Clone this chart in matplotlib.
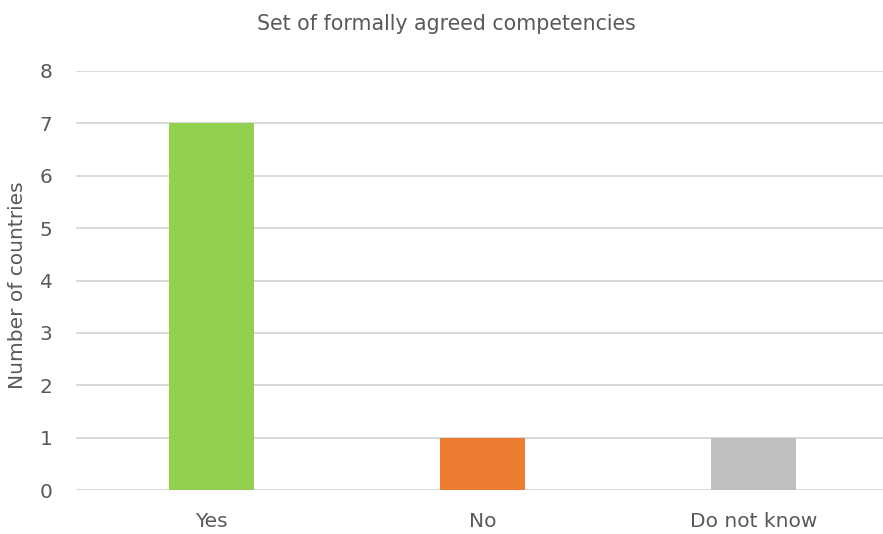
import matplotlib
matplotlib.use("Agg")
import matplotlib.pyplot as plt

categories = ["Yes", "No", "Do not know"]
counts = [7, 1, 1]
bar_colors = ["#92D050", "#ED7D31", "#BFBFBF"]
y_ticks = [0, 1, 2, 3, 4, 5, 6, 7, 8]

text_color = "#595959"
grid_color = "#D9D9D9"

plt.rcParams["font.family"] = ["DejaVu Sans"]

fig = plt.figure(figsize=(8.83, 5.34), dpi=100)
W, H = 883, 534
left, right, bottom, top = 76, 883, 490, 71
ax = fig.add_axes([left / W, 1 - bottom / H, (right - left) / W, (bottom - top) / H])

x = list(range(len(categories)))
ax.bar(x, counts, width=0.314, color=bar_colors, zorder=3)

ax.set_xlim(-0.5, -0.5 + (right - left) / 271.0)
ax.set_ylim(0, 8)
ax.set_yticks(y_ticks)
ax.set_xticks(x)
ax.set_xticklabels(categories)

ax.yaxis.grid(True, color=grid_color, linewidth=1.4, zorder=0)
ax.set_axisbelow(True)
for s in ax.spines.values():
    s.set_visible(False)
ax.tick_params(axis="both", length=0, colors=text_color, labelsize=14.5)
ax.tick_params(axis="y", pad=17)
ax.tick_params(axis="x", pad=16)

fig.text(18 / W, 1 - 285 / H, "Number of countries", color=text_color,
         fontsize=14.5, rotation=90, ha="center", va="center")
fig.text((256 + 637) / 2 / W, 1 - 24 / H, "Set of formally agreed competencies",
         color=text_color, fontsize=14.8, ha="center", va="center")

fig.savefig("out.png", dpi=100)
